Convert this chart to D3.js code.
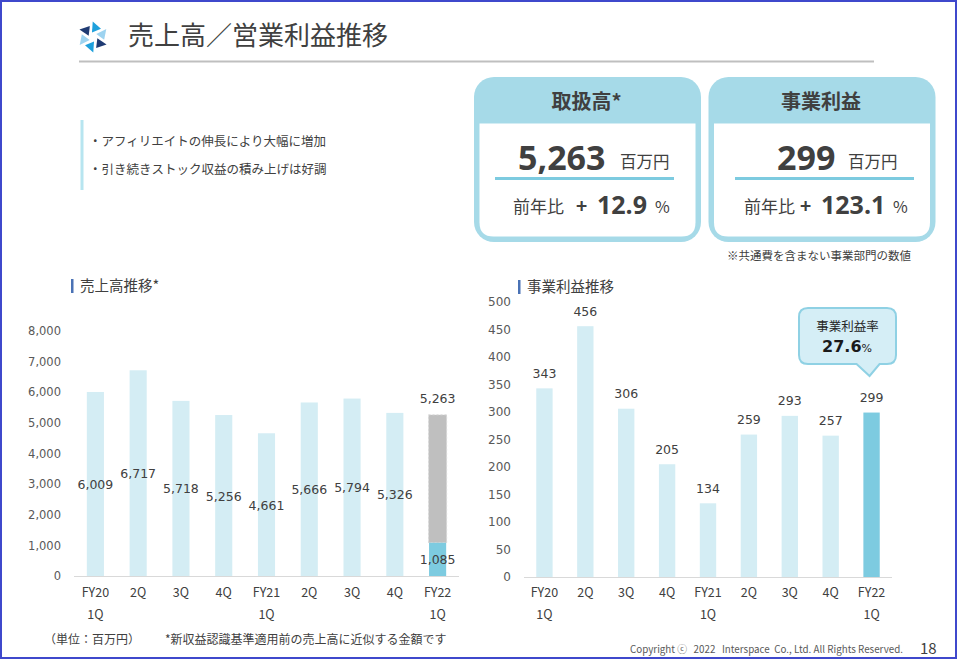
<!DOCTYPE html>
<html><head><meta charset="utf-8">
<script src="https://cdn.jsdelivr.net/npm/d3@7"></script>
<style>
body{margin:0;background:#fff}
svg{display:block}
text{font-family:"Noto Sans CJK JP","Noto Sans",sans-serif;fill:#404040}
.num{font-family:"DejaVu Sans",sans-serif}
.big{font-family:"Open Sans",sans-serif;font-weight:700}
</style>
</head><body>
<svg id="c" width="957" height="659"></svg>
<script>
// ---- data ----
const categories = [["FY20","1Q"],["2Q"],["3Q"],["4Q"],["FY21","1Q"],["2Q"],["3Q"],["4Q"],["FY22","1Q"]];
const salesValues = [6009,6717,5718,5256,4661,5666,5794,5326,5263];
const salesFY22Part = 1085;
const profitValues = [343,456,306,205,134,259,293,257,299];
const salesTicks = [0,1000,2000,3000,4000,5000,6000,7000,8000];
const profitTicks = [0,50,100,150,200,250,300,350,400,450,500];
const kpiTitles = ["取扱高*","事業利益"];
const kpiValues = ["5,263","299"];
const kpiGrowth = ["12.9","123.1"];
const bullets = ["・アフィリエイトの伸長により大幅に増加","・引き続きストック収益の積み上げは好調"];
const profitMargin = "27.6";

const svg = d3.select("#c");
const LIGHT = "#d4edf4", DARK = "#7dcbe0", GRAY = "#bfbfbf";
const fmt = d3.format(",");

// frame
svg.append("rect").attr("x",1).attr("y",1).attr("width",955).attr("height",657)
  .attr("fill","none").attr("stroke","#3f48cc").attr("stroke-width",2);

// logo (pinwheel)
const logoColors = ["#1f3b73","#1ea0dc","#9dd3f0"];
const cx = 93, cy = 37;
const tmpl = [[15.5,0],[11.5,45],[4.5,-12]];
for (let k = 0; k < 6; k++) {
  const base = 209 + 60*k;
  const pts = tmpl.map(([r,da]) => {
    const t = (base+da)*Math.PI/180;
    return [cx + r*Math.cos(t), cy + r*Math.sin(t)];
  });
  svg.append("polygon").attr("points", pts.map(d=>d.join(",")).join(" "))
    .attr("fill", logoColors[k%3]);
}
// title
svg.append("text").attr("x",128).attr("y",45).attr("font-size",26).text("売上高／営業利益推移");
svg.append("line").attr("x1",79).attr("x2",874).attr("y1",61.5).attr("y2",61.5)
  .attr("stroke","#bfbfbf").attr("stroke-width",2);

// bullets
svg.append("rect").attr("x",80.5).attr("y",120).attr("width",3).attr("height",70).attr("fill","#b7e5f0");
bullets.forEach((b,i)=>{
  svg.append("text").attr("x",89).attr("y",146 + i*27.5).attr("font-size",12.5).text(b);
});

// KPI cards
const cardX = [474, 708.5];
cardX.forEach((x0,i)=>{
  const w = 227, y0 = 77, h = 165;
  svg.append("rect").attr("x",x0).attr("y",y0).attr("width",w).attr("height",h).attr("rx",20).attr("fill","#a6dae8");
  const ix = x0+5.5, iy = 123.5, iw = w-11, ih = 113, r = 14;
  svg.append("path").attr("fill","#fff").attr("d",
    `M${ix},${iy}H${ix+iw}V${iy+ih-r}Q${ix+iw},${iy+ih} ${ix+iw-r},${iy+ih}H${ix+r}Q${ix},${iy+ih} ${ix},${iy+ih-r}Z`);
  svg.append("text").attr("x",x0+w/2-1).attr("y",108.5).attr("text-anchor","middle")
    .attr("font-size",20).attr("font-weight",700).text(kpiTitles[i]);
});
// card 1 content
svg.append("text").attr("class","big").attr("x",518).attr("y",170).attr("font-size",34).text(kpiValues[0]);
svg.append("text").attr("x",620).attr("y",168).attr("font-size",16.5).text("百万円");
svg.append("rect").attr("x",495).attr("y",177).attr("width",179).attr("height",3).attr("fill",DARK);
svg.append("text").attr("x",513).attr("y",213).attr("font-size",17).text("前年比");
svg.append("text").attr("x",576).attr("y",213).attr("font-size",19).attr("font-weight",700).text("+");
svg.append("text").attr("class","big").attr("x",597).attr("y",213.5).attr("font-size",25).text(kpiGrowth[0]);
svg.append("text").attr("x",655).attr("y",213).attr("font-size",16).text("%");
// card 2 content
svg.append("text").attr("class","big").attr("x",777).attr("y",170).attr("font-size",34).text(kpiValues[1]);
svg.append("text").attr("x",848).attr("y",168).attr("font-size",16.5).text("百万円");
svg.append("rect").attr("x",735).attr("y",177).attr("width",179).attr("height",3).attr("fill",DARK);
svg.append("text").attr("x",744).attr("y",213).attr("font-size",17).text("前年比");
svg.append("text").attr("x",800).attr("y",213).attr("font-size",19).attr("font-weight",700).text("+");
svg.append("text").attr("class","big").attr("x",821).attr("y",213.5).attr("font-size",25).text(kpiGrowth[1]);
svg.append("text").attr("x",893).attr("y",213).attr("font-size",16).text("%");
svg.append("text").attr("x",727).attr("y",260).attr("font-size",11.5).text("※共通費を含まない事業部門の数値");

// section titles
svg.append("rect").attr("x",71).attr("y",279).attr("width",2.5).attr("height",14).attr("fill","#4a72b5");
svg.append("text").attr("x",80).attr("y",291).attr("font-size",14.5).text("売上高推移*");
svg.append("rect").attr("x",518).attr("y",280).attr("width",2.5).attr("height",14).attr("fill","#4a72b5");
svg.append("text").attr("x",527).attr("y",292).attr("font-size",14.5).text("事業利益推移");

function xLabels(g, x, y0) {
  categories.forEach((lines,i)=>{
    lines.forEach((t,j)=>{
      g.append("text").attr("x", x(i)+x.bandwidth()/2).attr("y", y0 + j*22)
        .attr("text-anchor","middle").attr("font-size",12.5).text(t);
    });
  });
}

// ---- left chart ----
const xL = d3.scaleBand().domain(d3.range(categories.length)).range([74,459]).paddingInner(0.6).paddingOuter(0.3);
const yL = d3.scaleLinear().domain([0,8000]).range([576,331]);
const gL = svg.append("g");
const axL = gL.append("g").attr("transform","translate(61,0)")
  .call(d3.axisLeft(yL).tickValues(salesTicks).tickFormat(fmt).tickSize(0).tickPadding(0));
axL.select(".domain").remove();
axL.selectAll("text").attr("class","num").attr("font-size",11.5).style("fill","#595959");
const last = salesValues.length - 1;
gL.selectAll(".bar").data(salesValues.slice(0,last)).join("rect")
  .attr("x",(d,i)=>xL(i)).attr("width",xL.bandwidth())
  .attr("y",d=>yL(d)).attr("height",d=>yL(0)-yL(d)).attr("fill",LIGHT);
// FY22 stacked
gL.append("rect").attr("x",xL(last)-0.5).attr("width",xL.bandwidth()+1)
  .attr("y",yL(salesValues[last])).attr("height",yL(salesFY22Part)-yL(salesValues[last]))
  .attr("fill",GRAY).attr("stroke","#d9d9d9").attr("stroke-dasharray","2,2");
gL.append("rect").attr("x",xL(last)).attr("width",xL.bandwidth())
  .attr("y",yL(salesFY22Part)).attr("height",yL(0)-yL(salesFY22Part)).attr("fill",DARK);
gL.append("line").attr("x1",74).attr("x2",459).attr("y1",576.5).attr("y2",576.5).attr("stroke","#d9d9d9");
salesValues.slice(0,last).forEach((v,i)=>{
  gL.append("text").attr("class","num").attr("x",xL(i)+xL.bandwidth()/2).attr("y",yL(v/2)+5)
    .attr("text-anchor","middle").attr("font-size",12.5).text(fmt(v));
});
gL.append("text").attr("class","num").attr("x",xL(last)+xL.bandwidth()/2).attr("y",yL(salesValues[last])-11.5)
  .attr("text-anchor","middle").attr("font-size",12.5).text(fmt(salesValues[last]));
gL.append("text").attr("class","num").attr("x",xL(last)+xL.bandwidth()/2).attr("y",yL(salesFY22Part/2)+5)
  .attr("text-anchor","middle").attr("font-size",12.5).text(fmt(salesFY22Part));
xLabels(gL, xL, 597);

// ---- right chart ----
const xR = d3.scaleBand().domain(d3.range(categories.length)).range([524,892]).paddingInner(0.6).paddingOuter(0.3);
const yR = d3.scaleLinear().domain([0,500]).range([577,302]);
const gR = svg.append("g");
const axR = gR.append("g").attr("transform","translate(511,0)")
  .call(d3.axisLeft(yR).tickValues(profitTicks).tickSize(0).tickPadding(0));
axR.select(".domain").remove();
axR.selectAll("text").attr("class","num").attr("font-size",12).style("fill","#595959");
gR.selectAll(".bar").data(profitValues).join("rect")
  .attr("x",(d,i)=>xR(i)).attr("width",xR.bandwidth())
  .attr("y",d=>yR(d)).attr("height",d=>yR(0)-yR(d))
  .attr("fill",(d,i)=>i===profitValues.length-1?DARK:LIGHT);
gR.append("line").attr("x1",524).attr("x2",892).attr("y1",577.5).attr("y2",577.5).attr("stroke","#d9d9d9");
profitValues.forEach((v,i)=>{
  gR.append("text").attr("class","num").attr("x",xR(i)+xR.bandwidth()/2).attr("y",yR(v)-10.5)
    .attr("text-anchor","middle").attr("font-size",12.5).text(v);
});
xLabels(gR, xR, 597);

// callout
const tipX = xR(profitValues.length-1)+xR.bandwidth()/2 - 2, tipY = 376;
const bx0 = 799, bx1 = 896, by0 = 308, by1 = 364, rr = 9;
svg.append("path").attr("fill","#d5eef6").attr("stroke","#8fd1e4").attr("stroke-width",2)
  .attr("d",`M${bx0+rr},${by0}H${bx1-rr}Q${bx1},${by0} ${bx1},${by0+rr}V${by1-rr}Q${bx1},${by1} ${bx1-rr},${by1}
   H${tipX+10}L${tipX},${tipY}L${tipX-13},${by1}H${bx0+rr}Q${bx0},${by1} ${bx0},${by1-rr}V${by0+rr}Q${bx0},${by0} ${bx0+rr},${by0}Z`);
svg.append("text").attr("x",847.5).attr("y",331).attr("text-anchor","middle").attr("font-size",12.5)
  .style("fill","#262626").text("事業利益率");
const ct = svg.append("text").attr("x",847).attr("y",351.5).attr("text-anchor","middle").style("fill","#1a1a1a");
ct.append("tspan").attr("font-family","DejaVu Sans").attr("font-weight",700).attr("font-size",16).text(profitMargin);
ct.append("tspan").attr("font-family","DejaVu Sans").attr("font-size",11).text("%");

// footer
svg.append("text").attr("x",44).attr("y",644).attr("font-size",12).text("（単位：百万円）");
svg.append("text").attr("x",165).attr("y",644).attr("font-size",12).text("*新収益認識基準適用前の売上高に近似する金額です");
svg.append("text").attr("x",630).attr("y",653).attr("font-size",10).style("fill","#595959")
  .style("white-space","pre")
  .attr("textLength",273).attr("lengthAdjust","spacingAndGlyphs")
  .text("Copyright ⓒ   2022   Interspace  Co., Ltd. All Rights Reserved.");
svg.append("text").attr("x",920).attr("y",654).attr("font-size",15).text("18");
</script>
</body></html>
